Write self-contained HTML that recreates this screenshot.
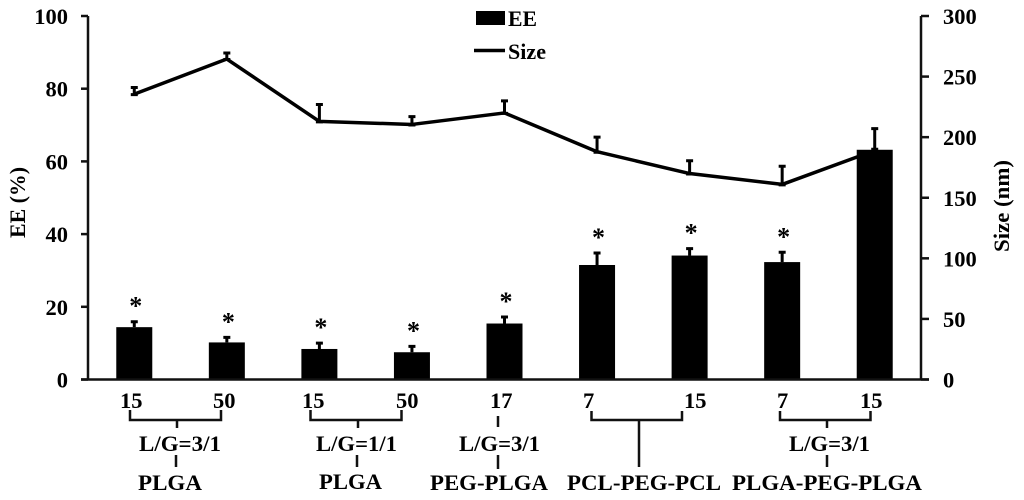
<!DOCTYPE html>
<html lang="en">
<head>
<meta charset="utf-8">
<title>EE and Size chart</title>
<style>
html,body{margin:0;padding:0;background:#fff;width:1024px;height:500px;overflow:hidden}
svg{display:block}
text{font-family:"Liberation Serif","DejaVu Serif",serif;font-weight:bold;fill:#000}
.lbl{font-size:22.5px}
.ann{stroke:#111;stroke-width:2.500;fill:none}
</style>
</head>
<body>
<svg id="chart" xmlns="http://www.w3.org/2000/svg" width="1024" height="500" viewBox="0 0 1024 500">
  <g id="marks"></g>
  <g id="axes"></g>

  <text class="lbl" transform="translate(25,238) rotate(-90)" textLength="71" lengthAdjust="spacingAndGlyphs">EE (%)</text>
  <text class="lbl" transform="translate(1009,252) rotate(-90)" textLength="92" lengthAdjust="spacingAndGlyphs">Size (nm)</text>

  <g>
    <rect x="476" y="11" width="29" height="14" fill="#000"/>
    <text class="lbl" x="508" y="26" textLength="29" lengthAdjust="spacingAndGlyphs">EE</text>
    <line x1="474" y1="50.5" x2="505" y2="50.5" stroke="#000" stroke-width="3.500"/>
    <text class="lbl" x="508" y="59" textLength="38" lengthAdjust="spacingAndGlyphs">Size</text>
  </g>

  <g>
    <text class="lbl" x="120" y="408">15</text>
    <text class="lbl" x="213" y="408">50</text>
    <text class="lbl" x="302" y="408">15</text>
    <text class="lbl" x="396" y="408">50</text>
    <text class="lbl" x="490" y="408">17</text>
    <text class="lbl" x="583" y="408">7</text>
    <text class="lbl" x="684" y="408">15</text>
    <text class="lbl" x="777" y="408">7</text>
    <text class="lbl" x="860" y="408">15</text>
  </g>

  <g>
    <path class="ann" d="M130 410V420H221V410M177 420V428M176 455V467"/>
    <path class="ann" d="M310.500 410V420H401.500V410M358 420V428M357 455V467"/>
    <path class="ann" d="M498 416V427M498 455V469"/>
    <path class="ann" d="M591.500 411V420H682V411M639 420V467"/>
    <path class="ann" d="M780 411V420H870.500V411M827 420V428M827 455V467"/>
  </g>

  <g>
    <text class="lbl" x="139" y="451" textLength="82" lengthAdjust="spacingAndGlyphs">L/G=3/1</text>
    <text class="lbl" x="316" y="451" textLength="81" lengthAdjust="spacingAndGlyphs">L/G=1/1</text>
    <text class="lbl" x="459" y="451" textLength="81" lengthAdjust="spacingAndGlyphs">L/G=3/1</text>
    <text class="lbl" x="789" y="451" textLength="81" lengthAdjust="spacingAndGlyphs">L/G=3/1</text>
    <text class="lbl" x="138" y="490" textLength="64" lengthAdjust="spacingAndGlyphs">PLGA</text>
    <text class="lbl" x="319" y="489" textLength="63" lengthAdjust="spacingAndGlyphs">PLGA</text>
    <text class="lbl" x="430" y="490" textLength="118" lengthAdjust="spacingAndGlyphs">PEG-PLGA</text>
    <text class="lbl" x="567" y="490" textLength="154" lengthAdjust="spacingAndGlyphs">PCL-PEG-PCL</text>
    <text class="lbl" x="732" y="490" textLength="190" lengthAdjust="spacingAndGlyphs">PLGA-PEG-PLGA</text>
  </g>
</svg>
<script>
const categories = ['plga-3-1-15','plga-3-1-50','plga-1-1-15','plga-1-1-50','peg-plga-17','pcl-peg-pcl-7','pcl-peg-pcl-15','plga-peg-plga-7','plga-peg-plga-15'];
const eeValues = [14.4, 10.2, 8.4, 7.5, 15.4, 31.5, 34.1, 32.3, 63.2];
const eeErrors = [1.5, 1.4, 1.6, 1.6, 1.8, 3.3, 1.9, 2.7, 5.8];
const sizeValues = [235.5, 264.5, 213, 210.5, 220, 188, 170, 161, 189];
const sizeErrors = [5.5, 5, 14, 6.5, 10, 12, 10.5, 15, 1];
const significant = [true, true, true, true, true, true, true, true, false];
const eeTicks = [0, 20, 40, 60, 80, 100];
const sizeTicks = [0, 50, 100, 150, 200, 250, 300];

const NS = 'http://www.w3.org/2000/svg';
const plot = {left: 88, right: 921, top: 16, bottom: 379.500};
const barWidth = 36;
const capWidth = 7;
const eeMax = 100;
const sizeMax = 300;

function xScale(i) {
  return plot.left + (i + 0.5) * (plot.right - plot.left) / categories.length;
}
function yEE(v) {
  return plot.bottom - (v / eeMax) * (plot.bottom - plot.top);
}
function ySize(v) {
  return plot.bottom - (v / sizeMax) * (plot.bottom - plot.top);
}
function make(parent, tag, props, content) {
  const el = document.createElementNS(NS, tag);
  for (const k in props) el.setAttribute(k, props[k]);
  if (content !== undefined) el.textContent = content;
  parent.appendChild(el);
  return el;
}

const marks = document.getElementById('marks');
const axes = document.getElementById('axes');

// size line with error bars (drawn first: the tall bar covers it)
const linePoints = sizeValues.map((v, i) => xScale(i) + ',' + ySize(v)).join(' ');
const sizeLine = make(marks, 'polyline', {points: linePoints, fill: 'none', stroke: '#000', 'stroke-width': 3.500, 'stroke-linejoin': 'round'});



sizeValues.forEach((v, i) => {
  const x = xScale(i);
  const y0 = ySize(v);
  const y1 = ySize(v + sizeErrors[i]);
  const err = make(marks, 'path', {d: `M${x} ${y0}V${y1}M${x - capWidth / 2} ${y1}H${x + capWidth / 2}M${x - capWidth / 2} ${y0 + 0.5}H${x + capWidth / 2}`, fill: 'none', stroke: '#000', 'stroke-width': 3});
  
  
});

// EE bars with error bars and significance stars
eeValues.forEach((v, i) => {
  const x = xScale(i);
  const top = yEE(v);
  const bar = make(marks, 'rect', {x: x - barWidth / 2, y: top, width: barWidth, height: plot.bottom - top, fill: '#000'});
  
  

  const yErr = yEE(v + eeErrors[i]);
  const err = make(marks, 'path', {d: `M${x} ${top}V${yErr}M${x - capWidth / 2} ${yErr}H${x + capWidth / 2}`, fill: 'none', stroke: '#000', 'stroke-width': 3});
  
  

  if (significant[i]) {
    const star = make(marks, 'text', {x: x + 1.500, y: yErr - 7, 'text-anchor': 'middle', 'font-size': 26}, '*');
    
    
  }
});

// axes
const axisAttrs = {fill: 'none', stroke: '#111', 'stroke-width': 2.500};
const xAxis = make(axes, 'line', Object.assign({x1: 81, x2: 929, y1: plot.bottom, y2: plot.bottom}, axisAttrs));



const leftAxis = make(axes, 'line', Object.assign({x1: plot.left, x2: plot.left, y1: plot.top, y2: plot.bottom}, axisAttrs));



const rightAxis = make(axes, 'line', Object.assign({x1: plot.right, x2: plot.right, y1: plot.top, y2: plot.bottom}, axisAttrs));



eeTicks.forEach((t) => {
  const y = yEE(t);
  const tick = make(axes, 'line', Object.assign({x1: 81, x2: plot.left, y1: y, y2: y}, axisAttrs));
  
  
  const label = make(axes, 'text', {x: 68, y: y + 8, 'text-anchor': 'end', class: 'lbl'}, String(t));
  
  
});

sizeTicks.forEach((t) => {
  const y = ySize(t);
  const tick = make(axes, 'line', Object.assign({x1: plot.right, x2: 929, y1: y, y2: y}, axisAttrs));
  
  
  const label = make(axes, 'text', {x: 943, y: y + 8, class: 'lbl'}, String(t));
  
  
});
</script>
</body>
</html>
